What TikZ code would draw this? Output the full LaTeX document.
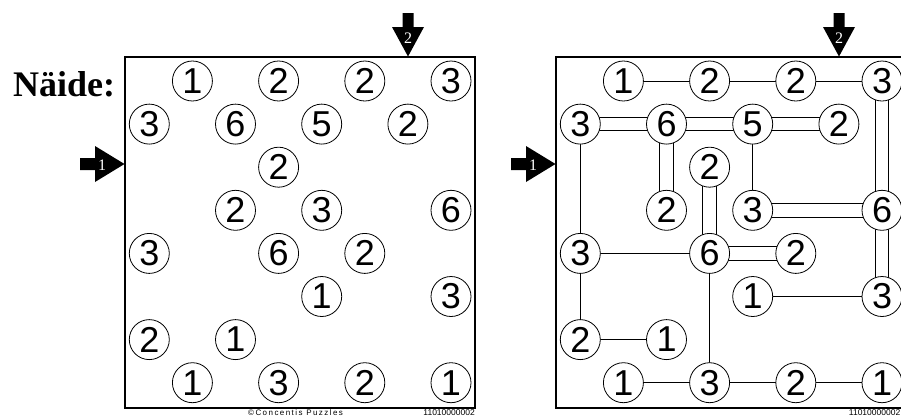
\documentclass[tikz,border=0pt]{standalone}
\usepackage{fontspec}
\setmainfont{Liberation Serif}
\newfontfamily\numfont{Liberation Sans}
\newfontfamily\footfont[LetterSpace=18]{Liberation Sans}
\usetikzlibrary{backgrounds}
\begin{document}
\begin{tikzpicture}[x=1pt,y=-1pt,
  num/.style={circle,draw,line width=0.8pt,fill=white,minimum size=40pt,inner sep=0pt,
    font=\numfont\fontsize{36}{36}\selectfont},
  single/.style={line width=1pt},
  dbl/.style={line width=1pt,double,double distance=12.4pt},
  frame/.style={line width=1.3pt},
  arrowshape/.style={fill=black},
  arrowlabel/.style={text=white,inner sep=0pt,font=\fontsize{16}{16}\selectfont},
  foot/.style={inner sep=0pt,font=\footfont\fontsize{8}{8}\selectfont},
  footnum/.style={inner sep=0pt,font=\numfont\fontsize{8.5}{8.5}\selectfont}]
\useasboundingbox (0,0) rectangle (901,416);

% title
\node[anchor=base west,inner sep=0pt,font=\bfseries\fontsize{36}{36}\selectfont] (title) at (13,96) {Näide:};

% frames
\draw[frame] (125,57) rectangle (475,408);
\draw[frame] (556,57) rectangle (906,408);

% arrows (left puzzle)
\fill[arrowshape] (80,158) -- (95,158) -- (95,146) -- (124.5,164) -- (95,182) -- (95,170) -- (80,170) -- cycle;
\node[arrowlabel] (la1) at (102,165) {1};
\fill[arrowshape] (402.5,13) -- (413.5,13) -- (413.5,27) -- (424,27) -- (408,56.5) -- (392,27) -- (402.5,27) -- cycle;
\node[arrowlabel] (la2) at (408,38) {2};

% arrows (right puzzle)
\begin{scope}[xshift=431pt]
\fill[arrowshape] (80,158) -- (95,158) -- (95,146) -- (124.5,164) -- (95,182) -- (95,170) -- (80,170) -- cycle;
\node[arrowlabel] (ra1) at (102,165) {1};
\fill[arrowshape] (402.5,13) -- (413.5,13) -- (413.5,27) -- (424,27) -- (408,56.5) -- (392,27) -- (402.5,27) -- cycle;
\node[arrowlabel] (ra2) at (408,38) {2};
\end{scope}

% circles
\foreach \r/\c/\v in {0/1/1,0/3/2,0/5/2,0/7/3,
                      1/0/3,1/2/6,1/4/5,1/6/2,
                      2/3/2,
                      3/2/2,3/4/3,3/7/6,
                      4/0/3,4/3/6,4/5/2,
                      5/4/1,5/7/3,
                      6/0/2,6/2/1,
                      7/1/1,7/3/3,7/5/2,7/7/1}{
  \node[num] (L\r\c) at ({149.3+43.1*\c},{81+43.1*\r}) {\v};
  \node[num] (R\r\c) at ({580.3+43.1*\c},{81+43.1*\r}) {\v};
}

% bridges
\begin{scope}[on background layer]
\foreach \a/\b in {R01/R03,R03/R05,R05/R07,R10/R40,R40/R60,R14/R34,R40/R43,
                   R43/R73,R54/R57,R60/R62,R71/R73,R73/R75,R75/R77}
  \draw[single] (\a.center) -- (\b.center);
\foreach \a/\b in {R10/R12,R12/R14,R14/R16,R34/R37,R43/R45,
                   R07/R37,R37/R57,R12/R32,R23/R43}
  \draw[dbl] (\a.center) -- (\b.center);
\end{scope}

% footer
\node[foot,anchor=base west] (copy) at (248,415) {©Concentis Puzzles};
\node[footnum,anchor=base east] (idl) at (475,415) {11010000002};
\node[footnum,anchor=base east] (idr) at (900.5,415) {11010000002};
\end{tikzpicture}
\end{document}
